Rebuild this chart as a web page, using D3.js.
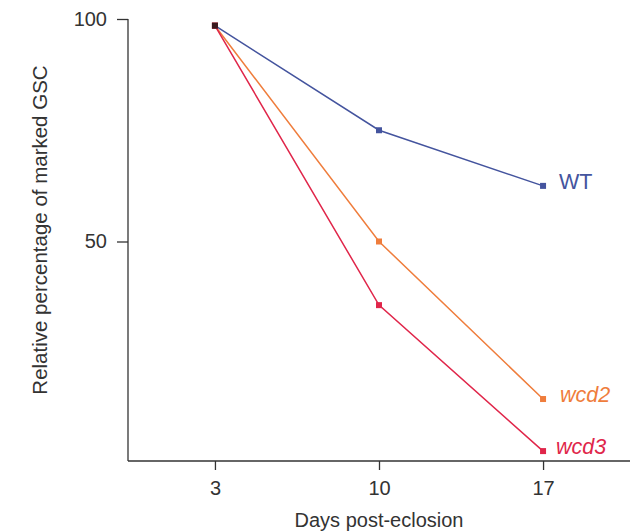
<!DOCTYPE html>
<html>
<head>
<meta charset="utf-8">
<script src="https://cdn.jsdelivr.net/npm/d3@7"></script>
<style>
  body { margin: 0; background: #fff; }
  text { font-family: "Liberation Sans", Arial, sans-serif; }
</style>
</head>
<body>
<div class="chart"></div>
<script>
// days post-eclosion
var days = [3, 10, 17];
var xTicks = [3, 10, 17];
var yTicks = [50, 100];

// relative percentage of marked GSC per genotype
var wtValues = [98.5, 75, 62.5];
var wcd2Values = [98.5, 50, 14.6];
var wcd3Values = [98.5, 35.7, 2.9];

var seriesNames = ["WT", "wcd2", "wcd3"];
var seriesColors = ["#44549e", "#ef7d3c", "#e0264a"];

var svgWidth = 641;
var svgHeight = 532;

var svg = d3.select(".chart").append("svg")
    .attr("width", svgWidth)
    .attr("height", svgHeight);

//scales
var xScale = d3.scaleLinear()
    .domain([-0.71, 20.71])
    .range([128, 630]);

var yScale = d3.scaleLinear()
    .domain([0, 100])
    .range([464, 19]);

var axisY = 461;

//x axis
var xAxis = svg.append("g")
    .attr("transform", `translate(0, ${axisY})`)
    .call(d3.axisBottom(xScale).tickValues(xTicks).tickSize(9).tickPadding(11).tickSizeOuter(0));
xAxis.select(".domain").remove();
xAxis.append("line")
    .attr("x1", 128).attr("x2", 630)
    .attr("stroke", "#333").attr("stroke-width", 1.3);

//y axis
var yAxis = svg.append("g")
    .attr("transform", "translate(128, 0)")
    .call(d3.axisLeft(yScale).tickValues(yTicks).tickSize(11).tickPadding(10).tickSizeOuter(0));
yAxis.select(".domain").remove();
yAxis.append("line")
    .attr("y1", yScale(100)).attr("y2", axisY)
    .attr("stroke", "#333").attr("stroke-width", 1.3);

svg.selectAll(".tick line").attr("stroke", "#333").attr("stroke-width", 1.3);
svg.selectAll(".tick text")
    .attr("font-size", "20px")
    .attr("fill", "#333")
    .style("font-family", "Liberation Sans, Arial, sans-serif");

//axis titles
svg.append("text")
    .attr("x", xScale(10))
    .attr("y", 527)
    .attr("text-anchor", "middle")
    .attr("font-size", "20px")
    .attr("fill", "#333")
    .text("Days post-eclosion");

svg.append("text")
    .attr("transform", "rotate(-90)")
    .attr("x", -230)
    .attr("y", 47)
    .attr("text-anchor", "middle")
    .attr("font-size", "20.5px")
    .attr("fill", "#333")
    .text("Relative percentage of marked GSC");

//lines and markers
var allSeries = [wtValues, wcd2Values, wcd3Values];
var labelShift = [16, 17, 13];
var line = d3.line()
    .x((d, i) => xScale(days[i]))
    .y(d => yScale(d));

allSeries.forEach(function(values, s) {
    svg.append("path")
        .datum(values)
        .attr("fill", "none")
        .attr("stroke", seriesColors[s])
        .attr("stroke-width", 1.5)
        .attr("d", line);

    svg.selectAll(".pt" + s)
        .data(values)
        .enter()
        .append("rect")
        .attr("x", (d, i) => xScale(days[i]) - 3)
        .attr("y", d => yScale(d) - 3)
        .attr("width", 6)
        .attr("height", 6)
        .attr("fill", seriesColors[s]);

    var last = values[values.length - 1];
    svg.append("text")
        .attr("x", xScale(days[days.length - 1]) + labelShift[s])
        .attr("y", yScale(last) + 3)
        .attr("font-size", "21.5px")
        .attr("font-style", s === 0 ? "normal" : "italic")
        .attr("fill", seriesColors[s])
        .text(seriesNames[s]);
});

//shared start point looks dark where the series overlap
svg.append("rect")
    .attr("x", xScale(days[0]) - 3)
    .attr("y", yScale(wtValues[0]) - 3)
    .attr("width", 6)
    .attr("height", 6)
    .attr("fill", "#3a1a1f");
</script>
</body>
</html>
